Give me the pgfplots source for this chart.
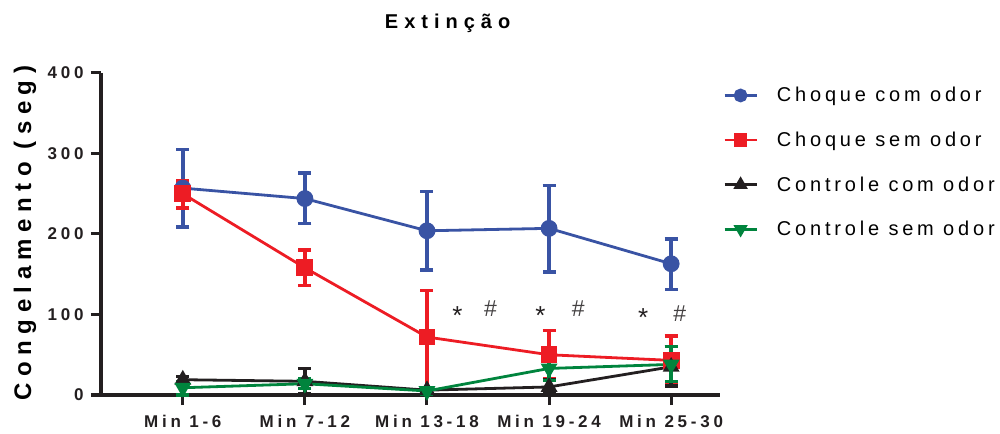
\documentclass[border=0pt]{standalone}
\usepackage{fontspec}
\setmainfont{Liberation Sans}
\newfontfamily\tickfont[LetterSpace=22]{Liberation Sans}
\newfontfamily\titfont[LetterSpace=30]{Liberation Sans}
\newfontfamily\labfont[LetterSpace=27]{Liberation Sans}
\newfontfamily\legfont[LetterSpace=19]{Liberation Sans}
\usepackage{pgfplots}
\pgfplotsset{compat=1.18}
\definecolor{cblue}{RGB}{57,83,164}
\definecolor{cred}{RGB}{237,28,36}
\definecolor{cblack}{RGB}{35,31,32}
\definecolor{cgreen}{RGB}{0,132,61}
\begin{document}
\begin{tikzpicture}
\useasboundingbox (0,0) rectangle (1000bp,434bp);
\begin{axis}[
  at={(101bp,39bp)}, anchor=south west,
  scale only axis, width=619bp, height=322bp,
  xmin=-0.67, xmax=4.4, ymin=0, ymax=400,
  axis lines=left,
  axis line style={-, line width=3bp, color=cblack},
  xtick={0,1,2,3,4},
  xticklabels={Min 1-6,Min 7-12,Min 13-18,Min 19-24,Min 25-30},
  ytick={0,100,200,300,400},
  tick align=outside,
  major tick length=10bp,
  tick style={line width=3bp, color=cblack},
  /pgf/number format/assume math mode=true,
  tick label style={font=\tickfont\bfseries\fontsize{17bp}{20bp}\selectfont, color=cblack},
  xticklabel style={yshift=-7bp},
  yticklabel style={xshift=-4bp},
  title={\titfont\bfseries\fontsize{20bp}{24bp}\selectfont Extinção},
  title style={at={(0.56,1.135)}, anchor=center},
  ylabel={\labfont\bfseries\fontsize{24bp}{28bp}\selectfont Congelamento (seg)},
  ylabel style={at={(-0.123,0.503)}, anchor=center, rotate=0},
  clip=false,
  legend style={draw=none, fill=none, at={(1.0,0.968)}, anchor=north west,
    font=\legfont\fontsize{20bp}{24bp}\selectfont, row sep=24.6bp, column sep=17bp},
  legend cell align=left,
  legend image code/.code={\draw[mark repeat=2,mark phase=2, mark size=5.5bp] plot coordinates {(0bp,0bp) (16bp,0bp) (32bp,0bp)};},
  every axis plot/.append style={line width=2.8bp},
  error bars/y dir=both, error bars/y explicit,
  error bars/error bar style={line width=3.5bp},
  error bars/error mark options={line width=3.5bp, mark size=6.5bp, rotate=90},
]
\addplot[color=cblue, mark=*, mark size=7bp, mark options={solid}]
  table[x=x, y=y, y error plus=ep, y error minus=em] {
x y ep em
0 257 48 48
1 244 32 31
2 204 49 49
3 207 53 54
4 163 31 32
};
\addlegendentry{Choque com odor}
\addplot[color=cred, mark=square*, mark size=7bp, mark options={solid}]
  table[x=x, y=y, y error plus=ep, y error minus=em] {
x y ep em
0 250 16 18
1 158 22 22
2 72 58 67
3 50 30 30
4 43 30 30
};
\addlegendentry{Choque sem odor}
\addplot[color=cblack, mark=triangle*, mark size=7bp, mark options={solid}]
  table[x=x, y=y, y error plus=ep, y error minus=em] {
x y ep em
0 19 4 4
1 17 16 16
2 6 3 3
3 10 9 9
4 35 25 24
};
\addlegendentry{Controle com odor}
\addplot[color=cgreen, mark=triangle*, mark size=7bp, mark options={solid, rotate=180}]
  table[x=x, y=y, y error plus=ep, y error minus=em] {
x y ep em
0 9 8 9
1 14 6 6
2 5 4 4
3 33 14 15
4 38 22 21
};
\addlegendentry{Controle sem odor}
\node[font=\fontsize{26bp}{28bp}\selectfont, color=cblack, yshift=-5bp] at (axis cs:2.25,105) {*};
\node[font=\fontsize{23bp}{25bp}\selectfont, color=cblack!85] at (axis cs:2.52,107) {\#};
\node[font=\fontsize{26bp}{28bp}\selectfont, color=cblack, yshift=-5bp] at (axis cs:2.93,105) {*};
\node[font=\fontsize{23bp}{25bp}\selectfont, color=cblack!85] at (axis cs:3.24,107) {\#};
\node[font=\fontsize{26bp}{28bp}\selectfont, color=cblack, yshift=-5bp] at (axis cs:3.77,102) {*};
\node[font=\fontsize{23bp}{25bp}\selectfont, color=cblack!85] at (axis cs:4.07,101) {\#};
\end{axis}
\end{tikzpicture}
\end{document}
